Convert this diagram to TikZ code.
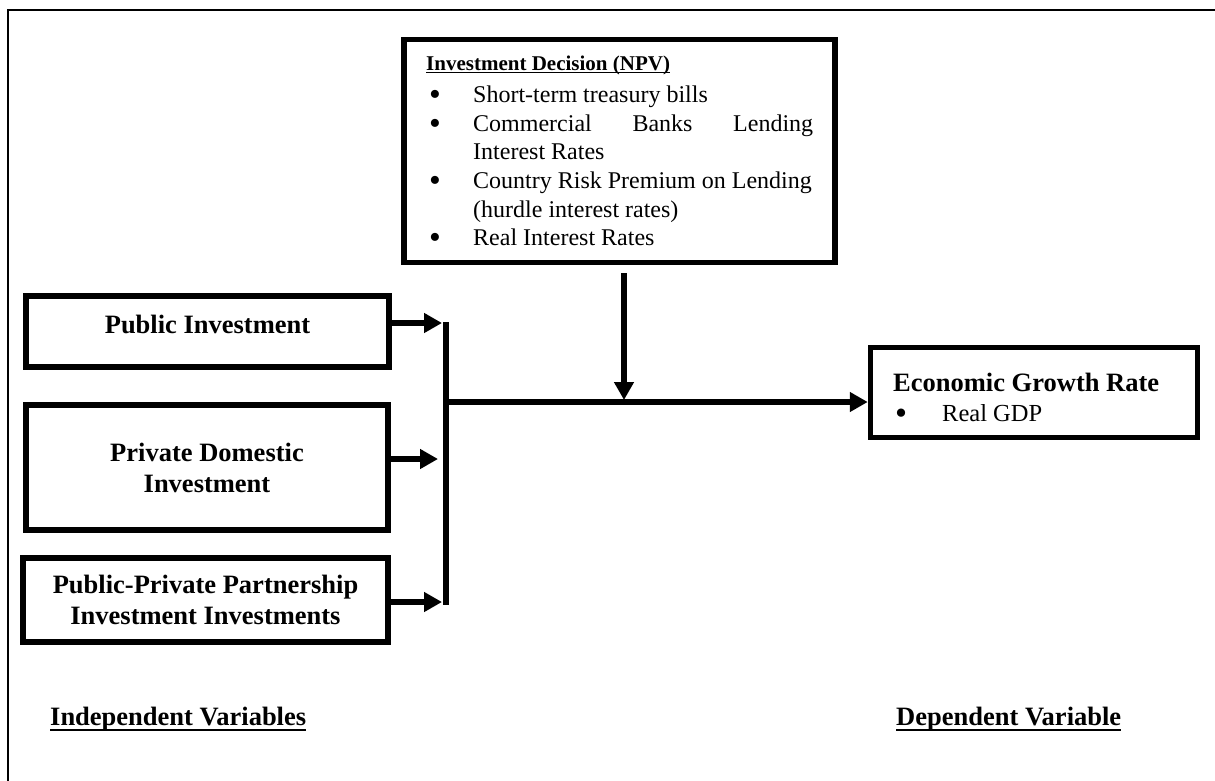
\documentclass[tikz,border=0pt]{standalone}
\usepackage{fontspec}
\setmainfont{Liberation Serif}
\usetikzlibrary{arrows.meta}
\newsavebox{\ulbox}
% \myul{raise of rule bottom}{thickness}{text}
\newcommand{\myul}[3]{\leavevmode\sbox{\ulbox}{#3}\rlap{\usebox{\ulbox}}\rule[#1]{\wd\ulbox}{#2}}
\newcommand{\bigbul}{\smash{\raisebox{-3pt}{\scalebox{1.4}{•}}}}
\newcommand{\bitem}[1]{\hangindent=47pt\hangafter=1\noindent\makebox[47pt][l]{\hspace{3pt}\bigbul}#1\par}
\begin{document}
\begin{tikzpicture}[x=1pt,y=-1pt,
  box/.style={draw=black, line width=5.5pt, rectangle, inner sep=0pt, align=center},
  lbl/.style={font=\fontsize{26.5}{31}\selectfont\bfseries},
  arr/.style={line width=6.5pt, -{Triangle[length=18pt,width=19pt]}},
  bar/.style={line width=6pt},
  frameline/.style={line width=2.5pt},
  caption/.style={anchor=base west, inner sep=0pt, font=\fontsize{26.5}{31}\selectfont\bfseries}
]
\useasboundingbox (0,0) rectangle (1215,780);
\draw[frameline] (8,781) -- (8,10) -- (1216,10);

% moderating box
\node[box, minimum width=431pt, minimum height=223pt] (inv) at (619.5,151) {};
\node[anchor=base west, inner sep=0pt] (invt) at (426,70) {\parbox[t]{387pt}{%
  {\fontsize{21}{21}\selectfont\bfseries\myul{-3pt}{1.5pt}{Investment Decision (NPV)}\par}%
  \fontsize{24}{28.6}\selectfont
  \vspace{4pt}%
  \bitem{Short-term treasury bills}
  \bitem{Commercial\hfill Banks\hfill Lending\\Interest Rates}
  \bitem{\mbox{Country Risk Premium on Lending}\\(hurdle interest rates)}
  \bitem{Real Interest Rates}}};

% independent variables
\node[box, lbl, minimum width=363pt, minimum height=71pt, text height=18pt, text depth=15pt] (pub) at (207.5,331.5) {Public Investment};
\node[box, lbl, minimum width=362pt, minimum height=125pt] (priv) at (207,467.5) {Private Domestic\\Investment};
\node[box, lbl, minimum width=365pt, minimum height=84pt] (ppp) at (205.5,600) {Public-Private Partnership\\Investment Investments};

% dependent variable
\node[box, minimum width=327pt, minimum height=90pt] (econ) at (1034,392.5) {};
\node[anchor=base west, inner sep=0pt] (econt) at (893,391) {\parbox[t]{300pt}{%
  \fontsize{26.5}{30}\selectfont\bfseries Economic Growth Rate\par
  \mdseries\fontsize{24.5}{30}\selectfont\makebox[49pt][l]{\hspace{2pt}\bigbul}Real GDP}};

% connectors
\coordinate (t1) at (442,323);
\coordinate (t2) at (438,459);
\coordinate (t3) at (442,602);
\draw[arr] (pub.east |- t1) -- (t1);
\draw[arr] (priv.east |- t2) -- (t2);
\draw[arr] (ppp.east |- t3) -- (t3);
\coordinate (bartop) at (446,322);
\coordinate (barbot) at (446,605);
\draw[bar] (bartop) -- (barbot);
\coordinate (junc) at (443,402);
\draw[arr] (junc) -- (econ.west |- junc);
\coordinate (dtip) at (624,400);
\draw[arr] ([yshift=-8pt]dtip |- inv.south) -- (dtip);

% captions
\node[caption] (ind) at (50,725) {\myul{-6pt}{2.5pt}{Independent Variables}};
\node[caption] (dep) at (896,725) {\myul{-6pt}{2.5pt}{Dependent Variable}};
\end{tikzpicture}
\end{document}
